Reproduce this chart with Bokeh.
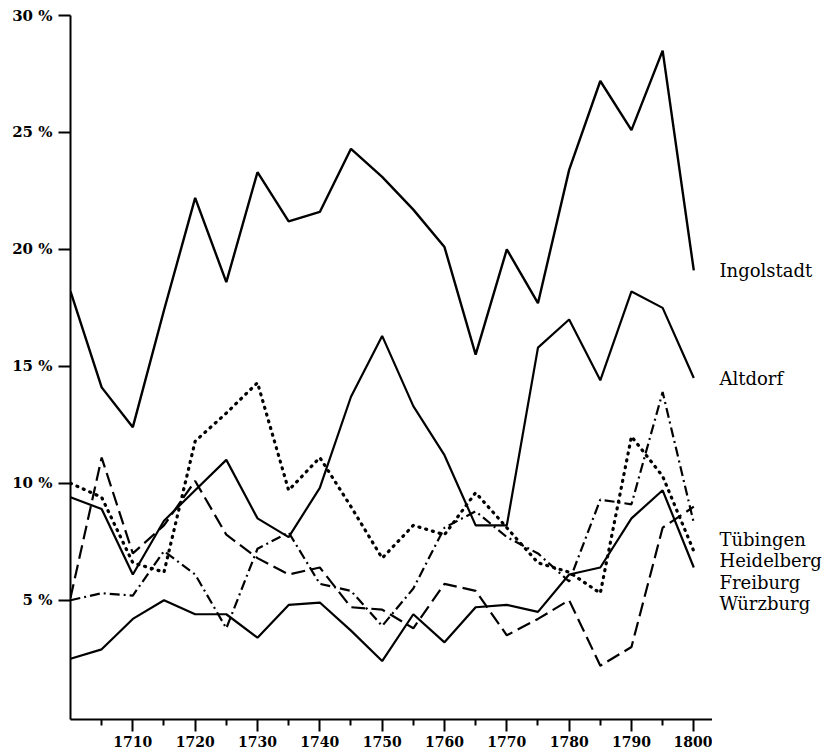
from bokeh.plotting import figure
from bokeh.models import FixedTicker, Range1d
from bokeh.layouts import row
from bokeh.core.properties import value
from bokeh.embed import file_html
from bokeh.resources import INLINE

years = list(range(1700, 1801, 5))

ingolstadt = [18.2, 14.1, 12.4, 17.4, 22.2, 18.6, 23.3, 21.2, 21.6, 24.3, 23.1,
              21.7, 20.1, 15.5, 20.0, 17.7, 23.4, 27.2, 25.1, 28.5, 19.1]
altdorf = [9.4, 8.9, 6.1, 8.4, 9.7, 11.0, 8.5, 7.7, 9.8, 13.7, 16.3,
           13.3, 11.2, 8.2, 8.2, 15.8, 17.0, 14.4, 18.2, 17.5, 14.5]
tuebingen = [5.1, 11.1, 7.0, 8.2, 10.1, 7.8, 6.8, 6.1, 6.4, 4.7, 4.6,
             3.8, 5.7, 5.4, 3.5, 4.2, 5.0, 2.2, 3.0, 8.1, 9.0]
heidelberg = [5.0, 5.3, 5.2, 7.1, 6.1, 3.8, 7.2, 7.9, 5.7, 5.4, 3.9,
              5.5, 8.1, 8.8, 7.7, 7.0, 5.8, 9.3, 9.1, 13.9, 8.3]
freiburg = [10.0, 9.4, 6.6, 6.2, 11.8, 13.0, 14.3, 9.7, 11.1, 9.0, 6.8,
            8.2, 7.8, 9.6, 8.1, 6.6, 6.2, 5.3, 12.0, 10.3, 7.1]
wuerzburg = [2.5, 2.9, 4.2, 5.0, 4.4, 4.4, 3.4, 4.8, 4.9, 3.7, 2.4,
             4.4, 3.2, 4.7, 4.8, 4.5, 6.1, 6.4, 8.5, 9.7, 6.4]

x_major_ticks = list(range(1710, 1801, 10))
x_minor_ticks = list(range(1705, 1800, 10))
y_ticks = [5, 10, 15, 20, 25, 30]
y_tick_labels = ["5 %", "10 %", "15 %", "20 %", "25 %", "30 %"]

label_names = ["Ingolstadt", "Altdorf", "Tübingen", "Heidelberg", "Freiburg", "Würzburg"]
label_levels = [19.1, 14.5, 7.6, 6.7, 5.75, 4.85]

FONT = "DejaVu Serif"
H = 754
TOP = 15
BOTTOM = 35

y_range = Range1d(-0.1, 30)

p = figure(width=712, height=H, output_backend="svg", toolbar_location=None,
           x_range=Range1d(1700, 1803), y_range=y_range,
           min_border_left=70, min_border_right=0, min_border_top=TOP, min_border_bottom=BOTTOM)
p.outline_line_color = None
p.xgrid.visible = False
p.ygrid.visible = False

# x axis
xa = p.xaxis[0]
xa.ticker = FixedTicker(ticks=x_major_ticks, minor_ticks=x_minor_ticks)
xa.axis_line_width = 2
xa.axis_line_color = "black"
xa.major_tick_line_width = 2
xa.minor_tick_line_width = 2
xa.major_tick_in = 0
xa.major_tick_out = 12
xa.minor_tick_in = 0
xa.minor_tick_out = 6
xa.major_label_standoff = 4
xa.major_label_text_font = FONT
xa.major_label_text_font_style = "bold"
xa.major_label_text_font_size = "14px"
xa.major_label_text_color = "black"

# y axis
ya = p.yaxis[0]
ya.ticker = FixedTicker(ticks=y_ticks, minor_ticks=[])
ya.major_label_overrides = {t: s for t, s in zip(y_ticks, y_tick_labels)}
ya.axis_line_width = 2
ya.axis_line_color = "black"
ya.major_tick_line_width = 2
ya.major_tick_in = 0
ya.major_tick_out = 12
ya.minor_tick_in = 0
ya.minor_tick_out = 0
ya.major_label_standoff = 6
ya.major_label_text_font = FONT
ya.major_label_text_font_style = "bold"
ya.major_label_text_font_size = "15px"
ya.major_label_text_color = "black"

LW = 2.2
p.line(years, ingolstadt, line_color="black", line_width=2.4)
p.line(years, altdorf, line_color="black", line_width=LW)
p.line(years, wuerzburg, line_color="black", line_width=LW)
p.line(years, tuebingen, line_color="black", line_width=LW, line_dash="14 6")
p.line(years, heidelberg, line_color="black", line_width=LW, line_dash="10 4 2 4")
p.line(years, freiburg, line_color="black", line_width=3.2, line_dash="1 6", line_cap="round")

# right-hand panel with the series names, sharing the y range
q = figure(width=110, height=H, output_backend="svg", toolbar_location=None,
           x_range=Range1d(0, 110), y_range=y_range,
           min_border_left=0, min_border_right=0, min_border_top=TOP, min_border_bottom=BOTTOM)
q.axis.visible = False
q.grid.visible = False
q.outline_line_color = None
q.text(x=[7] * len(label_names), y=label_levels, text=label_names,
       text_font=value(FONT), text_font_size="18px", text_color="black",
       text_baseline="middle", text_align="left")

layout = row(p, q, spacing=0)
open("out.html", "w").write(file_html(layout, INLINE))
